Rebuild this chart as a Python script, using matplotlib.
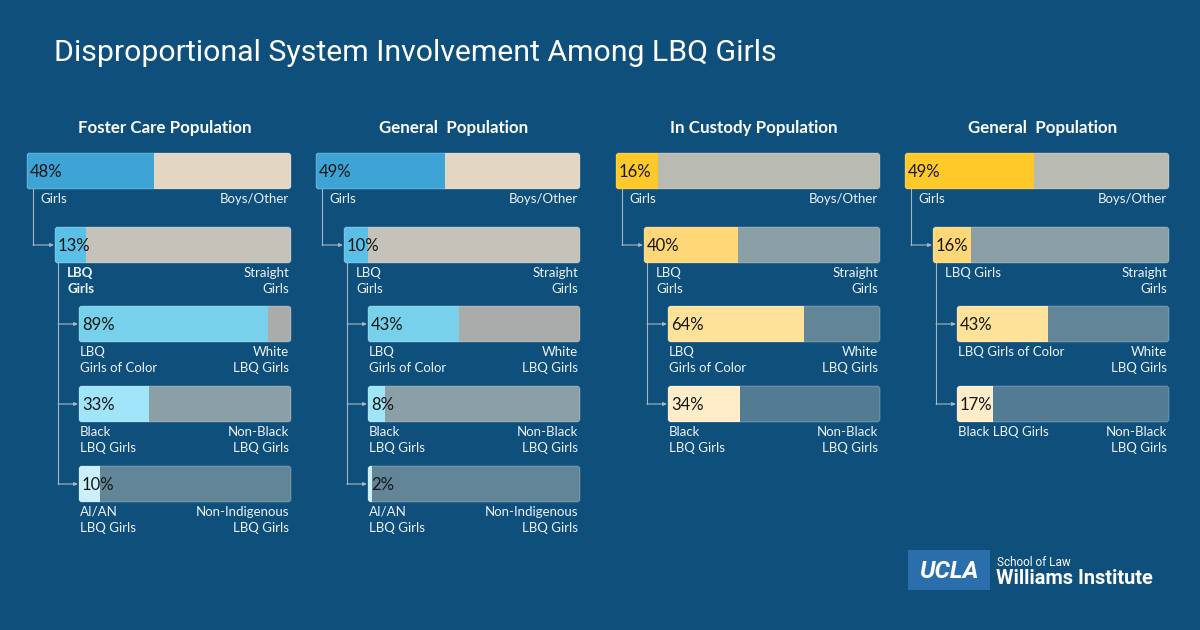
import matplotlib
matplotlib.use("Agg")
import matplotlib.pyplot as plt
from matplotlib.patches import FancyBboxPatch, Rectangle

# data
panel_titles = ["Foster Care Population", "General  Population",
                "In Custody Population", "General  Population"]

foster_vals = [48, 13, 89, 33, 10]
general_a_vals = [49, 10, 43, 8, 2]
custody_vals = [16, 40, 64, 34]
general_b_vals = [49, 16, 43, 17]

left_labels_a = ["Girls", "LBQ\nGirls", "LBQ\nGirls of Color", "Black\nLBQ Girls", "AI/AN\nLBQ Girls"]
right_labels_a = ["Boys/Other", "Straight\nGirls", "White\nLBQ Girls", "Non-Black\nLBQ Girls",
                  "Non-Indigenous\nLBQ Girls"]
left_labels_b = ["Girls", "LBQ\nGirls", "LBQ\nGirls of Color", "Black\nLBQ Girls"]
left_labels_c = ["Girls", "LBQ Girls", "LBQ Girls of Color", "Black LBQ Girls"]
right_labels_b = ["Boys/Other", "Straight\nGirls", "White\nLBQ Girls", "Non-Black\nLBQ Girls"]

blue_fill = ["#3DA4D5", "#5BC0E8", "#77D1EA", "#9FE4F8", "#CBEFFB"]
blue_rest = ["#E3D6C3", "#C4C2B9", "#A9ACAB", "#8B9FA6", "#628698"]
gold_fill = ["#FFC92A", "#FFD777", "#FFE29A", "#FEEDC8"]
gold_rest = ["#B9BBB3", "#8B9FA7", "#628698", "#527B94"]

BG = "#0E4F7C"
TXT = "#EEF2F5"
LINE = "#A7B6C2"

fig = plt.figure(figsize=(12, 6.3), dpi=100)
fig.patch.set_facecolor(BG)
ax = fig.add_axes([0, 0, 1, 1])
ax.set_xlim(0, 1200)
ax.set_ylim(630, 0)
ax.axis("off")

fam = ["Lato", "DejaVu Sans"]

ax.text(54, 53, "Disproportional System Involvement Among LBQ Girls", color="white",
        fontsize=21.8, family=["Roboto", "DejaVu Sans"], va="center", ha="left")

panel_x = [27, 316, 616, 905]
panel_vals = [foster_vals, general_a_vals, custody_vals, general_b_vals]
panel_left = [left_labels_a, left_labels_a, left_labels_b, left_labels_c]
panel_right = [right_labels_a, right_labels_a, right_labels_b, right_labels_b]
panel_fill = [blue_fill, blue_fill, gold_fill, gold_fill]
panel_rest = [blue_rest, blue_rest, gold_rest, gold_rest]

row_top = [153, 227, 306, 386, 466]
indent = [0, 28, 52, 52, 52]
bar_h = 36
right_edge = 264


def arrow(x1, y1, x2, y2):
    ax.annotate("", xy=(x2, y2), xytext=(x1, y1),
                arrowprops=dict(arrowstyle="-|>,head_length=0.22,head_width=0.1",
                                color=LINE, lw=0.8, shrinkA=0, shrinkB=0))


for p in range(4):
    x0 = panel_x[p]
    vals = panel_vals[p]
    ax.text(x0 + right_edge / 2 + 6, 128, panel_titles[p], color="white", fontsize=12.2,
            fontweight="bold", family=fam, ha="center", va="center")
    for i, v in enumerate(vals):
        bx = x0 + indent[i]
        bw = x0 + right_edge - bx
        yt = row_top[i]
        box = FancyBboxPatch((bx, yt), bw, bar_h, boxstyle="round,pad=0,rounding_size=3",
                             facecolor=panel_rest[p][i], edgecolor="none", zorder=2)
        ax.add_patch(box)
        bars = ax.barh(yt + bar_h / 2, bw * v / 100, left=bx, height=bar_h,
                       color=panel_fill[p][i], zorder=3)
        for b in bars:
            b.set_clip_path(box)
        edge = FancyBboxPatch((bx, yt), bw, bar_h, boxstyle="round,pad=0,rounding_size=3",
                              facecolor="none", edgecolor=(1, 1, 1, 0.22), lw=0.8, zorder=4)
        ax.add_patch(edge)
        ax.text(bx + 3, yt + bar_h / 2 + 1, f"{v}%", color="#161616", fontsize=12,
                family=fam, ha="left", va="center", zorder=5)

        lx = bx + (13 if i == 0 else 12 if i == 1 else 1)
        bold = "bold" if (p == 0 and i == 1) else "normal"
        ax.text(lx, yt + bar_h + 4, panel_left[p][i], color=TXT, fontsize=9.5, family=fam,
                fontweight=bold, ha="left", va="top", linespacing=1.42)
        ax.text(x0 + right_edge - 2, yt + bar_h + 4, panel_right[p][i], color=TXT,
                fontsize=9.5, family=fam, ha="right", va="top", linespacing=1.42)

    # connectors
    vx = x0 + 6
    ymid = row_top[1] + bar_h / 2
    ax.plot([vx, vx], [row_top[0] + bar_h, ymid], color=LINE, lw=0.8, zorder=1)
    arrow(vx, ymid, x0 + indent[1] - 1, ymid)
    vx2 = x0 + indent[1] + 3
    last = row_top[len(vals) - 1] + bar_h / 2
    ax.plot([vx2, vx2], [row_top[1] + bar_h, last], color=LINE, lw=0.8, zorder=1)
    for i in range(2, len(vals)):
        yc = row_top[i] + bar_h / 2
        arrow(vx2, yc, x0 + indent[i] - 1, yc)

# logo
ax.add_patch(Rectangle((908, 550), 82, 40, facecolor="#2A6FAC", edgecolor="none"))
ax.text(949, 571, "UCLA", color="white", fontsize=17.5, fontweight="bold", style="italic",
        family=["Roboto", "DejaVu Sans"], ha="center", va="center")
ax.text(997, 562, "School of Law", color="white", fontsize=8.5,
        family=["Roboto", "DejaVu Sans"], ha="left", va="center")
ax.text(996, 579, "Williams Institute", color="white", fontsize=14.4, fontweight="bold",
        family=["Roboto", "DejaVu Sans"], ha="left", va="center")

fig.savefig("out.png", dpi=100, facecolor=BG)
